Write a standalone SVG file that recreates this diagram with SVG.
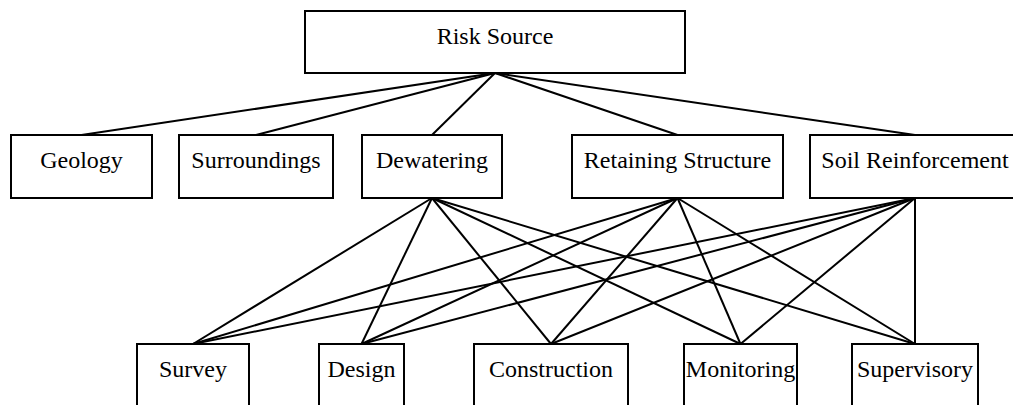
<svg xmlns="http://www.w3.org/2000/svg" width="1013" height="405" viewBox="0 0 1013 405">
<style>
.box{fill:#fff;stroke:#000;stroke-width:2}
.lbl{font-family:"Liberation Serif","Times New Roman",serif;font-size:24px;fill:#000;text-anchor:middle}
.conn line{stroke:#000;stroke-width:2}
</style>
<rect width="1013" height="405" fill="#fff"/>
<g id="connectors" class="conn">
<line x1="495" y1="73" x2="81.5" y2="135"/>
<line x1="495" y1="73" x2="256" y2="135"/>
<line x1="495" y1="73" x2="432" y2="135"/>
<line x1="495" y1="73" x2="677.5" y2="135"/>
<line x1="495" y1="73" x2="915" y2="135"/>
<line x1="432" y1="198" x2="193" y2="344"/>
<line x1="432" y1="198" x2="361.5" y2="344"/>
<line x1="432" y1="198" x2="551" y2="344"/>
<line x1="432" y1="198" x2="740.5" y2="344"/>
<line x1="432" y1="198" x2="915" y2="344"/>
<line x1="677.5" y1="198" x2="193" y2="344"/>
<line x1="677.5" y1="198" x2="361.5" y2="344"/>
<line x1="677.5" y1="198" x2="551" y2="344"/>
<line x1="677.5" y1="198" x2="740.5" y2="344"/>
<line x1="677.5" y1="198" x2="915" y2="344"/>
<line x1="915" y1="198" x2="193" y2="344"/>
<line x1="915" y1="198" x2="361.5" y2="344"/>
<line x1="915" y1="198" x2="551" y2="344"/>
<line x1="915" y1="198" x2="740.5" y2="344"/>
<line x1="915" y1="198" x2="915" y2="344"/>
</g>
<g id="risk-source"><rect class="box" x="305" y="11" width="380" height="62"/><text class="lbl" x="495" y="44">Risk Source</text></g>
<g id="geology"><rect class="box" x="11" y="135" width="141" height="63"/><text class="lbl" x="81.5" y="168">Geology</text></g>
<g id="surroundings"><rect class="box" x="179" y="135" width="154" height="63"/><text class="lbl" x="256" y="168">Surroundings</text></g>
<g id="dewatering"><rect class="box" x="362" y="135" width="140" height="63"/><text class="lbl" x="432" y="168">Dewatering</text></g>
<g id="retaining-structure"><rect class="box" x="572" y="135" width="211" height="63"/><text class="lbl" x="677.5" y="168">Retaining Structure</text></g>
<g id="soil-reinforcement"><rect class="box" x="810" y="135" width="210" height="63"/><text class="lbl" x="915" y="168">Soil Reinforcement</text></g>
<g id="survey"><rect class="box" x="137" y="344" width="112" height="80"/><text class="lbl" x="193" y="377">Survey</text></g>
<g id="design"><rect class="box" x="319" y="344" width="85" height="80"/><text class="lbl" x="361.5" y="377">Design</text></g>
<g id="construction"><rect class="box" x="474" y="344" width="154" height="80"/><text class="lbl" x="551" y="377">Construction</text></g>
<g id="monitoring"><rect class="box" x="684" y="344" width="113" height="80"/><text class="lbl" x="740.5" y="377">Monitoring</text></g>
<g id="supervisory"><rect class="box" x="852" y="344" width="126" height="80"/><text class="lbl" x="915" y="377">Supervisory</text></g>
</svg>
